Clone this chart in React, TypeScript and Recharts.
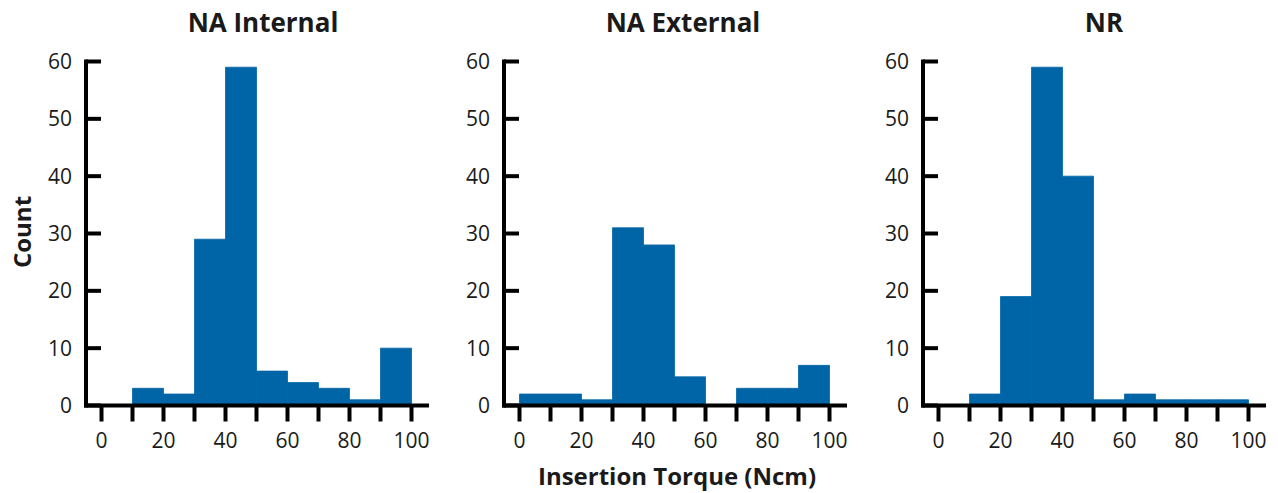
import React from 'react';
import { BarChart, Bar, XAxis, YAxis } from 'recharts';

// histogram bins (Ncm), bar drawn at bin centre
const binCenters = [5, 15, 25, 35, 45, 55, 65, 75, 85, 95];
const naInternal = [0, 3, 2, 29, 59, 6, 4, 3, 1, 10];
const naExternal = [2, 2, 1, 31, 28, 5, 0, 3, 3, 7];
const nr = [0, 2, 19, 59, 40, 1, 2, 1, 1, 1];

const xTicks = [0, 10, 20, 30, 40, 50, 60, 70, 80, 90, 100];
const yTicks = [0, 10, 20, 30, 40, 50, 60];

const panels = [
  { title: 'NA Internal', values: naInternal },
  { title: 'NA External', values: naExternal },
  { title: 'NR', values: nr },
];

const FONT = '"Open Sans", "DejaVu Sans", sans-serif';
const INK = '#1a1a1a';
const BLUE = '#0065a6';

const axisLine = { stroke: '#000', strokeWidth: 4, strokeLinecap: 'square' as const };
const tickLine = { stroke: '#000', strokeWidth: 4 };
const tickStyle = { fontSize: 21, fill: INK, fontFamily: FONT };

function Histogram({ values }: { values: number[] }) {
  const data = binCenters.map((x, i) => ({ x, count: values[i] }));
  return (
    <BarChart
      width={430}
      height={493}
      data={data}
      margin={{ top: 61.5, right: 3, left: 26, bottom: 27.5 }}
      barCategoryGap={0}
      barGap={0}
    >
      <XAxis
        dataKey="x"
        type="number"
        domain={[-5, 105]}
        ticks={xTicks}
        interval={0}
        tickFormatter={(v: number) => (v % 20 === 0 ? String(v) : '')}
        axisLine={axisLine}
        tickLine={tickLine}
        tickSize={16}
        tickMargin={12}
        tick={tickStyle}
        height={60}
        allowDataOverflow
      />
      <YAxis
        type="number"
        domain={[0, 60]}
        ticks={yTicks}
        interval={0}
        axisLine={axisLine}
        tickLine={tickLine}
        tickSize={-15}
        tickMargin={29}
        tick={tickStyle}
        width={60}
        allowDataOverflow
      />
      <Bar dataKey="count" fill={BLUE} stroke={BLUE} strokeWidth={0.8} isAnimationActive={false} />
    </BarChart>
  );
}

export default function App() {
  const lefts = [0, 418, 837];
  const titleX = [263, 683, 1104];
  return (
    <div style={{ position: 'absolute', left: 0, top: 0, width: 1278, height: 493, background: '#fff' }}>
      {panels.map((p, i) => (
        <div key={p.title} style={{ position: 'absolute', left: lefts[i], top: 0 }}>
          <Histogram values={p.values} />
        </div>
      ))}
      <svg width={1278} height={493} style={{ position: 'absolute', left: 0, top: 0, pointerEvents: 'none' }}>
        {panels.map((p, i) => (
          <text
            key={p.title}
            x={titleX[i]}
            y={32}
            textAnchor="middle"
            fontFamily={FONT}
            fontWeight={700}
            fontSize={26}
            fill={INK}
          >
            {p.title}
          </text>
        ))}
        <text
          x={677}
          y={485}
          textAnchor="middle"
          fontFamily={FONT}
          fontWeight={700}
          fontSize={24}
          fill={INK}
        >
          Insertion Torque (Ncm)
        </text>
        <text
          x={31}
          y={232}
          transform="rotate(-90 31 232)"
          textAnchor="middle"
          fontFamily={FONT}
          fontWeight={700}
          fontSize={24}
          fill={INK}
        >
          Count
        </text>
      </svg>
    </div>
  );
}
